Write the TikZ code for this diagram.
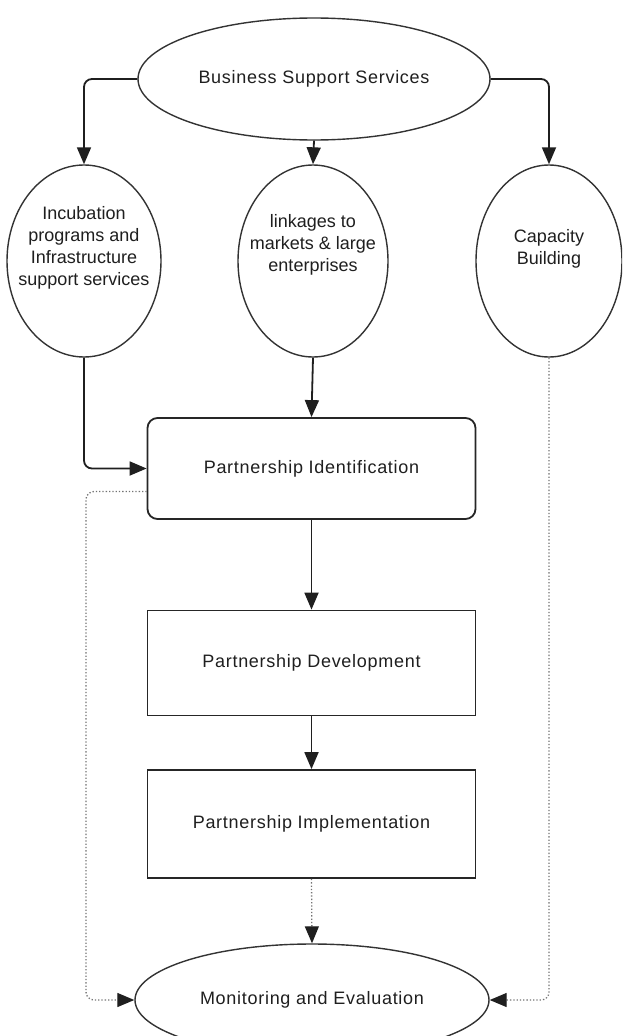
\documentclass[tikz,border=0pt]{standalone}
\usepackage{fontspec}
\setmainfont{Liberation Sans}
\usetikzlibrary{shapes.geometric,arrows.meta}
\begin{document}
\begin{tikzpicture}[x=1pt,y=-1pt,
  every node/.style={font=\fontsize{18}{22}\selectfont, text=black!88, align=center, inner sep=0pt},
  wide/.style={font=\fontsize{18}{22}\selectfont\addfontfeatures{LetterSpace=4}},
  oval/.style={ellipse, draw=black!80, line width=1.4pt, fill=white},
  stepbox/.style={rectangle, draw=black!85, line width=1.8pt, minimum width=328pt, fill=white, wide},
  flow/.style={line width=1.8pt, draw=black!88, -{Triangle[width=14pt,length=17pt]}, rounded corners=8pt},
  dots/.style={line width=1.3pt, draw=black!55, dotted, -{Triangle[width=14pt,length=17pt,color=black!88]}, rounded corners=8pt}]
\useasboundingbox (0,0) rectangle (622,1036);
\clip (0,0) rectangle (622,1036);

% top service ellipse and its three branches
\node[oval, wide, minimum width=352pt, minimum height=122pt] (bss) at (314,79) {Business Support Services};
\node[oval, minimum width=154pt, minimum height=192pt,
  label={[yshift=13pt]center:{Incubation\\programs and\\Infrastructure\\support services}}] (inc) at (84,261) {};
\node[oval, minimum width=150pt, minimum height=192pt,
  label={[yshift=16pt]center:{linkages to\\markets \& large\\enterprises}}] (lnk) at (313,261) {};
\node[oval, minimum width=146pt, minimum height=192pt,
  label={[yshift=12pt]center:{Capacity\\Building}}] (cap) at (549,261) {};

% partnership stages
\node[stepbox, rounded corners=10pt, minimum height=101pt] (pid) at (311.5,468.5) {Partnership Identification};
\node[stepbox, minimum height=105pt] (pdev) at (311.5,663) {Partnership Development};
\node[stepbox, minimum height=108pt] (pimp) at (311.5,824) {Partnership Implementation};
\node[oval, wide, minimum width=354pt, minimum height=112pt] (me) at (312,1000) {Monitoring and Evaluation};

% solid flow
\draw[flow] (bss.west) -| (inc.north);
\draw[flow] (bss.south) -- (lnk.north);
\draw[flow] (bss.east) -| (cap.north);
\draw[flow] (inc.south) |- (pid.west);
\draw[flow] (lnk.south) -- (pid.north);
\draw[flow] (pid.south) -- (pdev.north);
\draw[flow] (pdev.south) -- (pimp.north);

% dotted feedback into monitoring
\draw[dots] (pimp.south) -- (me.north);
\draw[dots] ([yshift=-23pt]pid.west) -| ([xshift=2pt]inc.south |- me.west) -- (me.west);
\draw[dots] (cap.south) |- (me.east);
\end{tikzpicture}
\end{document}
